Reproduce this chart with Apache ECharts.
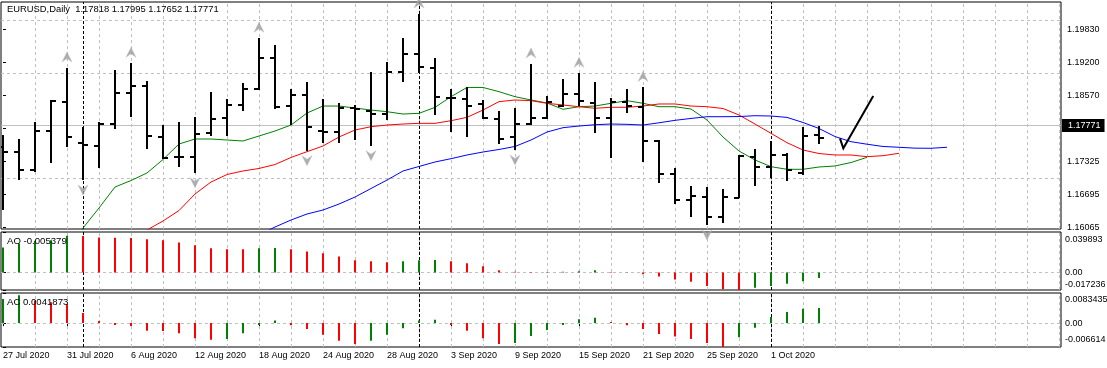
<!DOCTYPE html>
<html><head><meta charset="utf-8">
<script src="https://cdn.jsdelivr.net/npm/echarts@6/dist/echarts.min.js"></script>
<style>html,body{margin:0;padding:0;background:#fff;overflow:hidden}#c{width:1107px;height:368px}</style>
</head><body><div id="c"></div>
<script>
const symbolName = 'EURUSD', periodName = 'Daily';
const dates = ['27 Jul 2020','28 Jul 2020','29 Jul 2020','30 Jul 2020','31 Jul 2020','3 Aug 2020','4 Aug 2020','5 Aug 2020','6 Aug 2020','7 Aug 2020','10 Aug 2020','11 Aug 2020','12 Aug 2020','13 Aug 2020','14 Aug 2020','17 Aug 2020','18 Aug 2020','19 Aug 2020','20 Aug 2020','21 Aug 2020','24 Aug 2020','25 Aug 2020','26 Aug 2020','27 Aug 2020','28 Aug 2020','31 Aug 2020','1 Sep 2020','2 Sep 2020','3 Sep 2020','4 Sep 2020','7 Sep 2020','8 Sep 2020','9 Sep 2020','10 Sep 2020','11 Sep 2020','14 Sep 2020','15 Sep 2020','16 Sep 2020','17 Sep 2020','18 Sep 2020','21 Sep 2020','22 Sep 2020','23 Sep 2020','24 Sep 2020','25 Sep 2020','28 Sep 2020','29 Sep 2020','30 Sep 2020','1 Oct 2020','2 Oct 2020','5 Oct 2020','6 Oct 2020'];
const open = [1.17600,1.17503,1.17155,1.17890,1.18453,1.17674,1.17617,1.18024,1.18624,1.18758,1.17788,1.17396,1.17408,1.17852,1.18137,1.18396,1.18695,1.19290,1.18377,1.18581,1.17896,1.17872,1.18328,1.18282,1.18219,1.19024,1.19355,1.19088,1.18518,1.18505,1.18404,1.18124,1.17788,1.18030,1.18150,1.18370,1.18600,1.18434,1.18138,1.18453,1.18358,1.17706,1.17079,1.16584,1.16647,1.16255,1.16628,1.17408,1.17211,1.17440,1.17092,1.17818];
const high = [1.17820,1.17744,1.18062,1.18486,1.19094,1.17967,1.18062,1.19056,1.19183,1.18841,1.18010,1.18062,1.18168,1.18638,1.18505,1.18803,1.19659,1.19531,1.18689,1.18822,1.18499,1.18423,1.18391,1.19012,1.19203,1.19659,1.20121,1.19279,1.18695,1.18727,1.18486,1.18276,1.18328,1.19170,1.18567,1.18885,1.18993,1.18822,1.18518,1.18700,1.18725,1.17725,1.17187,1.16856,1.16837,1.16788,1.17440,1.17548,1.17712,1.17472,1.17978,1.17995];
const low = [1.16394,1.16964,1.17122,1.17293,1.17598,1.16964,1.17198,1.17929,1.18168,1.17548,1.17358,1.17217,1.17103,1.17801,1.17801,1.18282,1.18676,1.18309,1.18010,1.17522,1.17662,1.17674,1.17725,1.17617,1.18105,1.18834,1.19005,1.18200,1.17883,1.17788,1.18124,1.17643,1.17535,1.18010,1.18130,1.18358,1.18372,1.17864,1.17377,1.18244,1.17312,1.16902,1.16502,1.16255,1.16109,1.16153,1.16617,1.16850,1.17003,1.16945,1.17054,1.17652];
const close = [1.17503,1.17155,1.17902,1.18467,1.17776,1.17630,1.18024,1.18624,1.18758,1.17801,1.17377,1.17396,1.17833,1.18124,1.18396,1.18695,1.19290,1.18358,1.18581,1.17967,1.17872,1.18328,1.18309,1.18219,1.19024,1.19355,1.19113,1.18548,1.18530,1.18377,1.18138,1.17738,1.18024,1.18138,1.18442,1.18600,1.18472,1.18149,1.18453,1.18370,1.17706,1.17079,1.16584,1.16666,1.16267,1.16647,1.17427,1.17217,1.17440,1.17155,1.17801,1.17771];

// Alligator lines (already shifted forward): first bar index of each line
const lipsStart = 4;
const lips = [1.15633,1.16052,1.16432,1.16831,1.16955,1.17098,1.17355,1.17649,1.17744,1.17744,1.17725,1.17706,1.17801,1.17896,1.18010,1.18238,1.18371,1.18371,1.18333,1.18295,1.18263,1.18219,1.18232,1.18346,1.18549,1.18724,1.18724,1.18644,1.18549,1.18486,1.18429,1.18309,1.18358,1.18371,1.18423,1.18473,1.18423,1.18358,1.18358,1.18314,1.18105,1.17782,1.17516,1.17345,1.17218,1.17168,1.17168,1.17212,1.17231,1.17297,1.17396];
const teethStart = 8;
const teeth = [1.15728,1.16014,1.16185,1.16384,1.16698,1.16926,1.17069,1.17136,1.17184,1.17259,1.17393,1.17503,1.17611,1.17782,1.17915,1.17978,1.18010,1.18029,1.18042,1.18042,1.18092,1.18156,1.18295,1.18454,1.18486,1.18473,1.18423,1.18391,1.18358,1.18328,1.18347,1.18347,1.18371,1.18410,1.18410,1.18371,1.18358,1.18324,1.18200,1.18029,1.17852,1.17674,1.17535,1.17468,1.17440,1.17440,1.17408,1.17427,1.17472];
const jawStart = 16;
const jaw = [1.15919,1.16071,1.16204,1.16318,1.16394,1.16508,1.16641,1.16803,1.16964,1.17136,1.17222,1.17307,1.17370,1.17440,1.17497,1.17545,1.17602,1.17725,1.17877,1.17959,1.17991,1.18016,1.18029,1.18023,1.18010,1.18052,1.18099,1.18135,1.18168,1.18168,1.18171,1.18187,1.18181,1.18155,1.18058,1.17944,1.17791,1.17693,1.17645,1.17602,1.17587,1.17570,1.17568,1.17587];

const fractalUpIdx = [4, 8, 16, 26, 33, 36, 40];
const fractalDownIdx = [5, 12, 19, 23, 32, 44];

const ao = [0.0246,0.0286,0.0312,0.0318,0.0361,0.0359,0.0345,0.0343,0.0341,0.0328,0.0318,0.0296,0.0269,0.0239,0.0230,0.0228,0.0239,0.0241,0.0229,0.0207,0.0190,0.0158,0.0121,0.0111,0.0101,0.0111,0.0121,0.0122,0.0111,0.0092,0.0062,0.0023,0.0007,0.0004,0.0006,0.0008,0.0013,0.0023,0.0005,0.0003,-0.0017,-0.0040,-0.0070,-0.0090,-0.0133,-0.0165,-0.017236,-0.0150,-0.0133,-0.0110,-0.0085,-0.005379];
const ac = [0.0067,0.0077,0.0063,0.0058,0.0053,0.0028,0.0006,-0.0005,-0.0008,-0.0021,-0.0022,-0.0028,-0.0042,-0.0046,-0.0044,-0.0028,-0.0005,0.0007,-0.0006,-0.0016,-0.0032,-0.0049,-0.0058,-0.0049,-0.0032,-0.0014,0.0007,0.0009,-0.0005,-0.0021,-0.0042,-0.0058,-0.0055,-0.0036,-0.0019,-0.0005,0.0011,0.0015,0.0003,-0.0006,-0.0016,-0.0030,-0.0037,-0.0044,-0.0055,-0.006614,-0.0039,-0.0013,0.0017,0.0031,0.0040,0.0041873];

const priceTicks = [1.19830, 1.19200, 1.18570, 1.17940, 1.17325, 1.16695, 1.16065];
const aoTicks = [0.039893, 0, -0.017236];
const aoTickLabels = ['0.039893', '0.00', '-0.017236'];
const acTicks = [0.0083435, 0, -0.006614];
const acTickLabels = ['0.0083435', '0.00', '-0.006614'];
const arrowPath = [[52.31, 1.17757], [52.52, 1.17567], [54.39, 1.18562]];

// ---------------- build ----------------
const FONT = "'Liberation Sans',Arial,sans-serif";
const FS = 9;
const N = dates.length, last = N - 1;
const xMin = -0.125, xMax = 66.125;
const GREEN = '#008000', RED = '#ff0000';

const ohlc = dates.map((d, i) => [i, open[i], high[i], low[i], close[i]]);
const toXY = (arr, start) => arr.map((v, i) => [start + i, v]);
const colorize = arr => arr.map((v, i) => (i === 0 || v > arr[i - 1]) ? GREEN : RED);
const aoColors = colorize(ao), acColors = colorize(ac);
const labelIdx = dates.map((d, i) => i).filter(i => i % 4 === 0);
const sepIdx = dates.map((d, i) => i).filter(i => i > 0 && dates[i].split(' ')[1] !== dates[i - 1].split(' ')[1]);
const vGrid = []; for (let k = 2; k <= xMax; k += 2) vGrid.push(k);

const gridStyle = {color: '#c0c0c0', type: [3, 3], width: 1};
const sepStyle = {color: '#000000', type: [3, 2], width: 1};
function paneLines(hVals) {
  const d = [];
  vGrid.forEach(x => d.push({xAxis: x, lineStyle: gridStyle}));
  hVals.forEach(y => d.push({yAxis: y, lineStyle: gridStyle}));
  sepIdx.forEach(x => d.push({xAxis: x, lineStyle: sepStyle}));
  return d;
}
const txt = {fontSize: FS, fontFamily: FONT, color: '#000'};
const bidLine = {
  yAxis: close[last], lineStyle: {color: '#c0c0c0', type: 'solid', width: 1},
  label: {show: true, position: 'end', distance: 1, formatter: close[last].toFixed(5),
    color: '#fff', backgroundColor: '#000', padding: [2, 4, 2, 6], fontSize: FS, fontFamily: FONT}
};
const ml = data => ({silent: true, symbol: ['none', 'none'], animation: false, z: 1,
  label: {show: false}, emphasis: {disabled: true}, data});

function nearest(arr, v) { let b = 0; arr.forEach((a, i) => { if (Math.abs(a - v) < Math.abs(arr[b] - v)) b = i; }); return b; }
function subAxis(idx, ticks, labels, padTop, padBot) {
  return {
    type: 'value', gridIndex: idx, position: 'right', min: ticks[2], max: ticks[0],
    splitLine: {show: false}, axisLine: {show: false},
    axisTick: {show: true, customValues: ticks, length: 3, lineStyle: {color: '#000'}},
    axisLabel: {customValues: ticks, margin: 4, ...txt,
      formatter: v => { const k = nearest(ticks, v); const s = labels[k];
        return k === 0 ? '{t|' + s + '}' : (k === 2 ? '{b|' + s + '}' : s); },
      rich: {t: {...txt, padding: [padTop, 0, 0, 0]}, b: {...txt, padding: [0, 0, padBot, 0]}}}
  };
}
function renderOHLC(params, api) {
  const i = api.value(0);
  const pO = api.coord([i, api.value(1)]), pH = api.coord([i, api.value(2)]);
  const pL = api.coord([i, api.value(3)]), pC = api.coord([i, api.value(4)]);
  const x = Math.round(pO[0]);
  const st = {stroke: '#000', lineWidth: 2};
  const yo = Math.round(pO[1]), yc = Math.round(pC[1]);
  return {type: 'group', children: [
    {type: 'line', shape: {x1: x, y1: Math.round(pH[1]), x2: x, y2: Math.round(pL[1])}, style: st},
    {type: 'line', shape: {x1: x - 5, y1: yo, x2: x, y2: yo}, style: st},
    {type: 'line', shape: {x1: x, y1: yc, x2: x + 5, y2: yc}, style: st}
  ]};
}
const upPath = 'path://M5,0 L10,10 L5,6.5 L0,10 Z';
const downPath = 'path://M0,0 L5,3.5 L10,0 L5,10 Z';

const xAxisBase = gi => ({type: 'value', gridIndex: gi, min: xMin, max: xMax, splitLine: {show: false},
  axisLine: {show: false}, axisTick: {show: false}, axisLabel: {show: false}});
const gridBase = {left: 1, right: 46, show: true, borderColor: '#000', borderWidth: 1, backgroundColor: '#fff',
  containLabel: false, outerBoundsMode: 'none'};
const titleStyle = fs => ({...txt, fontSize: fs, fontWeight: 'normal'});

const option = {
  animation: false,
  backgroundColor: '#ffffff',
  textStyle: {fontFamily: FONT},
  title: [
    {text: `${symbolName},${periodName}  ${open[last].toFixed(5)} ${high[last].toFixed(5)} ${low[last].toFixed(5)} ${close[last].toFixed(5)}`,
      left: 7, top: 5, padding: 0, textStyle: titleStyle(9.4)},
    {text: 'AO ' + ao[last].toFixed(6), left: 7, top: 236, padding: 0, textStyle: titleStyle(9.6)},
    {text: 'AC ' + ac[last].toFixed(7), left: 7, top: 297, padding: 0, textStyle: titleStyle(9.6)}
  ],
  grid: [
    {...gridBase, top: 2, height: 227},
    {...gridBase, top: 232, height: 58},
    {...gridBase, top: 293, height: 54}
  ],
  xAxis: [
    xAxisBase(0), xAxisBase(1),
    {...xAxisBase(2),
      axisTick: {show: true, customValues: labelIdx, length: 3, lineStyle: {color: '#000'}},
      axisLabel: {show: true, customValues: labelIdx, margin: 4, align: 'left', ...txt,
        formatter: v => dates[Math.round(v)] || ''}}
  ],
  yAxis: [
    {type: 'value', gridIndex: 0, position: 'right', min: 1.16033, max: 1.20349,
      splitLine: {show: false}, axisLine: {show: false},
      axisTick: {show: true, customValues: priceTicks, length: 3, lineStyle: {color: '#000'}},
      axisLabel: {customValues: priceTicks, margin: 6, ...txt, formatter: v => v.toFixed(5)}},
    subAxis(1, aoTicks, aoTickLabels, 16, 10),
    subAxis(2, acTicks, acTickLabels, 14, 14)
  ],
  series: [
    {type: 'line', name: 'Lips', xAxisIndex: 0, yAxisIndex: 0, data: toXY(lips, lipsStart), showSymbol: false,
      lineStyle: {color: '#008000', width: 1}, z: 3, clip: true,
      markLine: ml(paneLines(priceTicks).concat([bidLine]))},
    {type: 'line', name: 'Teeth', xAxisIndex: 0, yAxisIndex: 0, data: toXY(teeth, teethStart), showSymbol: false,
      lineStyle: {color: '#ff0000', width: 1}, z: 3, clip: true},
    {type: 'line', name: 'Jaw', xAxisIndex: 0, yAxisIndex: 0, data: toXY(jaw, jawStart), showSymbol: false,
      lineStyle: {color: '#0000ff', width: 1}, z: 3, clip: true},
    {type: 'custom', name: 'EURUSD', xAxisIndex: 0, yAxisIndex: 0, data: ohlc, renderItem: renderOHLC,
      encode: {x: 0, y: [1, 2, 3, 4]}, z: 10, clip: true},
    {type: 'scatter', name: 'FractalUp', xAxisIndex: 0, yAxisIndex: 0,
      data: fractalUpIdx.map(i => [i, high[i]]), symbol: upPath, symbolSize: [10, 10], symbolOffset: [0, -11],
      itemStyle: {color: '#9a9a9a', borderColor: '#b8bcc8', borderWidth: 0.5}, z: 6},
    {type: 'scatter', name: 'FractalDown', xAxisIndex: 0, yAxisIndex: 0,
      data: fractalDownIdx.map(i => [i, low[i]]), symbol: downPath, symbolSize: [10, 10], symbolOffset: [0, 10],
      itemStyle: {color: '#9a9a9a', borderColor: '#b8bcc8', borderWidth: 0.5}, z: 6},
    {type: 'lines', coordinateSystem: 'cartesian2d', xAxisIndex: 0, yAxisIndex: 0, polyline: true,
      data: [{coords: arrowPath}], symbol: ['none', 'arrow'], symbolSize: 8,
      lineStyle: {color: '#000', width: 2, opacity: 1}, z: 12},
    {type: 'bar', name: 'AO', xAxisIndex: 1, yAxisIndex: 1, data: ao.map((v, i) => [i, v]), barWidth: 2,
      itemStyle: {color: p => aoColors[p.dataIndex]}, z: 3,
      markLine: ml(paneLines([0]))},
    {type: 'bar', name: 'AC', xAxisIndex: 2, yAxisIndex: 2, data: ac.map((v, i) => [i, v]), barWidth: 2,
      itemStyle: {color: p => acColors[p.dataIndex]}, z: 3,
      markLine: ml(paneLines([0]))}
  ]
};
const chart = echarts.init(document.getElementById('c'), null, {renderer: 'canvas'});
chart.setOption(option);
</script>
</body></html>
